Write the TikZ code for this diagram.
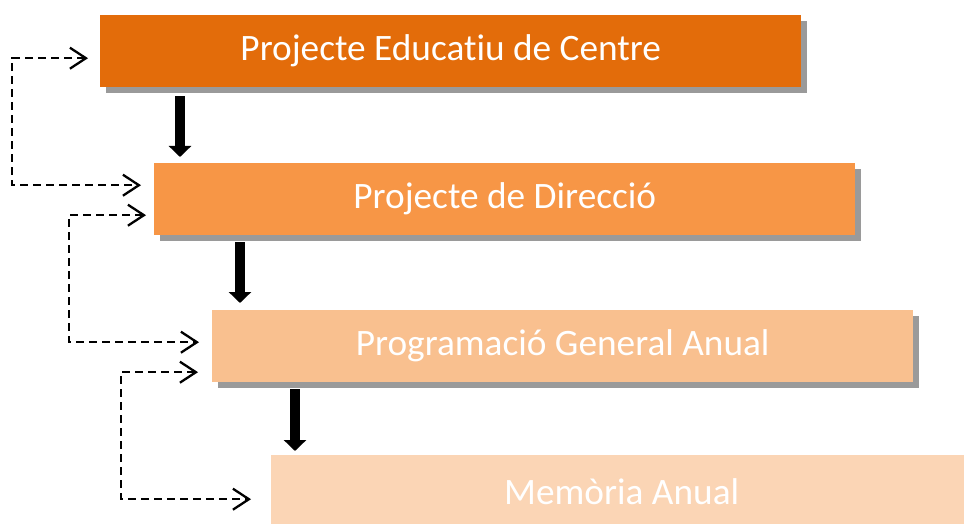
\documentclass[tikz,border=0pt]{standalone}
\usepackage{fontspec}
\setmainfont{Carlito}[Ligatures=NoCommon]
\usetikzlibrary{arrows.meta,calc,shadows}
\definecolor{c1}{HTML}{E36C0A}
\definecolor{c2}{HTML}{F79646}
\definecolor{c3}{HTML}{F9C08F}
\definecolor{c4}{HTML}{FBD5B5}
\definecolor{shad}{HTML}{9A9A9A}
\begin{document}
\begin{tikzpicture}[x=1pt,y=-1pt,
 box/.style={anchor=north west, minimum width=701pt, minimum height=72pt, inner sep=0pt,
   text=white, font=\fontsize{37.3}{44}\selectfont,
   drop shadow={shadow xshift=6pt, shadow yshift=-6pt, opacity=1, fill=shad}},
 flow/.style={line width=10pt, -{Triangle[length=11pt,width=22pt]}},
 loopline/.style={line width=2.3pt, dash pattern=on 8pt off 5pt,
   {Straight Barb[length=16pt,width=21pt]}-{Straight Barb[length=16pt,width=21pt]}}]
\useasboundingbox (0,0) rectangle (964,524);
\clip (0,0) rectangle (964,524);
\node[box, fill=c1] (b1) at (100,15) {Projecte Educatiu de Centre};
\node[box, fill=c2] (b2) at (154,163) {Projecte de Direcció};
\node[box, fill=c3] (b3) at (212,310) {Programació General Anual};
\node[box, fill=c4] (b4) at (271,455) {Memòria Anual};
\draw[flow] ($(b1.south west)+(80,9)$) -- ($(b2.north west)+(26,-6)$);
\draw[flow] ($(b2.south west)+(86,7)$) -- ($(b3.north west)+(28,-7)$);
\draw[flow] ($(b3.south west)+(83,7)$) -- ($(b4.north west)+(24,-4)$);
\draw[loopline] ($(b1.west)+(-12,7)$) -- ++(-76,0) |- ($(b2.west)+(-13,-14)$);
\draw[loopline] ($(b2.west)+(-8,16)$) -- ++(-77,0) |- ($(b3.west)+(-13,-4)$);
\draw[loopline] ($(b3.west)+(-14,26)$) -- ++(-77,0) |- ($(b4.west)+(-20,8)$);
\end{tikzpicture}
\end{document}
